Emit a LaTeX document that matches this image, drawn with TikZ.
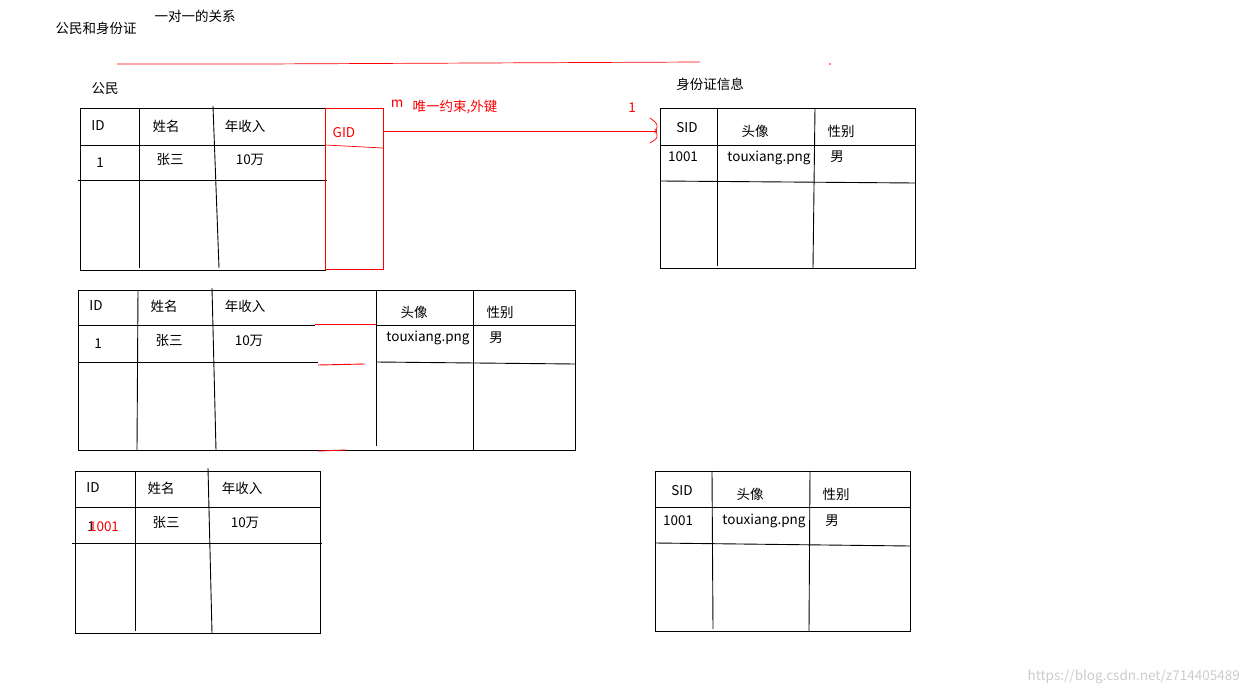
\documentclass[tikz,border=0pt]{standalone}
\usepackage{fontspec}
\setmainfont{Liberation Sans}
\newfontfamily\cjk{Noto Sans CJK SC}
\begin{document}
\begin{tikzpicture}[x=1pt,y=-1pt,
  t/.style={font=\cjk\fontsize{13.5}{16}\selectfont,inner sep=0pt},
  r/.style={t,text=red},
  ln/.style={line width=0.9pt,black},
  rl/.style={line width=0.9pt,red}]
\useasboundingbox (0,0) rectangle (1248,695);
\node[t] (title) at (96,28) {公民和身份证};
\node[t] (rel) at (195,16) {一对一的关系};
\draw[rl,line width=0.7pt] (117,64) -- (262,64) -- (700,62);
\fill[red] (830,64) circle (0.8);
\node[t] (gm) at (105,89) {公民};
% table 1
\draw[ln] (80,108) rectangle (325,270);
\draw[ln] (80,145) -- (325,145); \draw[ln] (78,180) -- (327,180);
\draw[ln] (139,108) -- (139,268); \draw[ln] (213,106) -- (219,268);
\node[t] at (98,126) {ID}; \node[t] at (166,126) {姓名}; \node[t] at (245,126) {年收入};
\node[t] at (100,163) {1}; \node[t] at (170,160) {张三}; \node[t] at (250,160) {10万};
% GID
\draw[rl,line width=0.7pt] (325,108) rectangle (383,269);
\draw[rl,line width=0.7pt] (325,145) -- (383,148);
\node[r] (gid) at (344,133) {GID};
\coordinate (a1) at (383,131);
\coordinate (a2) at (657,131);
\draw[rl,line width=0.8pt,->] (a1) -- (a2);
\draw[rl,line width=0.7pt] (650,118) .. controls (658,124) .. (656,131) .. controls (658,138) .. (650,143);
\node[r] at (397,104) {m};
\node[r] at (455,107) {唯一约束,外键};
\node[r] at (632,108) {1};
\node[t] at (710,84) {身份证信息};
% table 2
\draw[ln] (660,108) rectangle (915,268);
\draw[ln] (660,145) -- (915,145); \draw[ln] (660,181) -- (915,183);
\draw[ln] (717,108) -- (717,266); \draw[ln] (815,108) -- (813,268);
\node[t] at (687,128) {SID}; \node[t] at (755,131) {头像}; \node[t] at (841,131) {性别};
\node[t] at (683,157) {1001}; \node[t] at (769,158) {touxiang.png}; \node[t] at (837,157) {男};
% table 3
\draw[ln] (78,290) rectangle (575,450);
\draw[ln] (78,325) -- (315,325); \draw[ln] (376,325) -- (575,325);
\draw[ln] (78,362) -- (318,362); \draw[ln] (376,362) -- (575,364);
\draw[ln] (138,290) -- (137,450); \draw[ln] (212,288) -- (216,450);
\draw[ln] (376,290) -- (376,446); \draw[ln] (473,290) -- (473,450);
\draw[rl] (315,324) -- (376,324); \draw[rl] (318,365) -- (365,364); \draw[rl] (318,451) -- (346,450);
\node[t] at (96,306) {ID}; \node[t] at (164,306) {姓名}; \node[t] at (245,306) {年收入};
\node[t] at (414,312) {头像}; \node[t] at (500,312) {性别};
\node[t] at (98,344) {1}; \node[t] at (169,341) {张三}; \node[t] at (249,341) {10万};
\node[t] at (428,338) {touxiang.png}; \node[t] at (496,338) {男};
% table 4
\draw[ln] (75,471) rectangle (320,633);
\draw[ln] (75,507) -- (320,507); \draw[ln] (72,543) -- (322,543);
\draw[ln] (135,471) -- (135,631); \draw[ln] (208,468) -- (212,633);
\node[t] at (91,527) {1};
\node[r] at (104,527) {1001};
\node[t] at (93,488) {ID}; \node[t] at (161,488) {姓名}; \node[t] at (242,488) {年收入};
\node[t] at (166,523) {张三}; \node[t] at (245,523) {10万};
% table 5
\draw[ln] (655,471) rectangle (910,631);
\draw[ln] (655,507) -- (910,507); \draw[ln] (655,543) -- (910,546);
\draw[ln] (712,471) -- (713,629); \draw[ln] (810,471) -- (809,631);
\node[t] at (682,491) {SID}; \node[t] at (750,494) {头像}; \node[t] at (836,494) {性别};
\node[t] at (678,521) {1001}; \node[t] at (764,521) {touxiang.png}; \node[t] at (832,521) {男};
\node[t,text=gray!40,anchor=east] at (1240,677) {https://blog.csdn.net/z714405489};
\end{tikzpicture}
\end{document}
